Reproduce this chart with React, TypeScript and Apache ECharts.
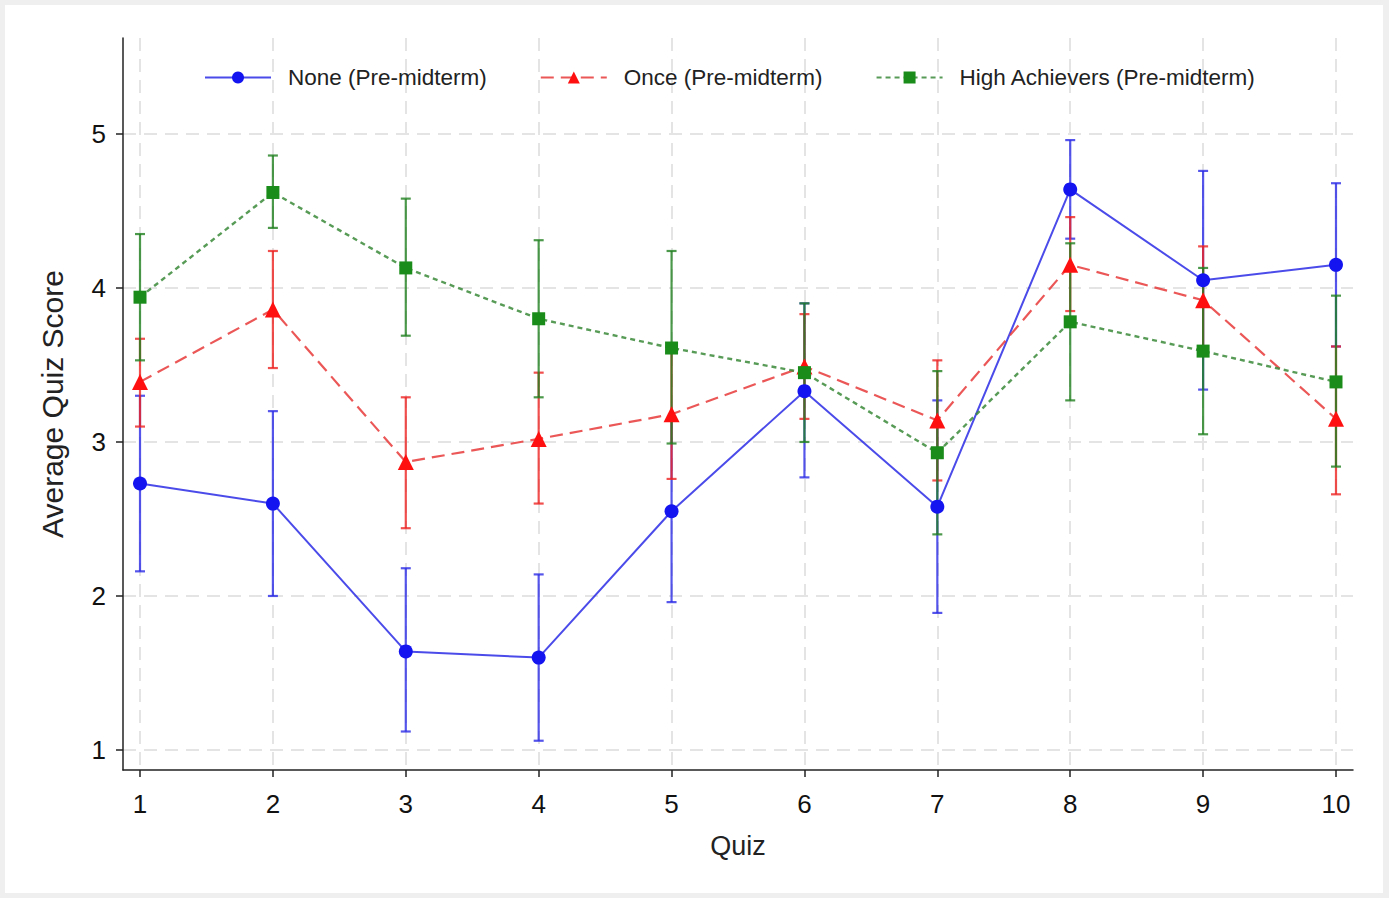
import React, { useEffect, useRef } from "react";
import * as echarts from "echarts";

const quizzes = [1, 2, 3, 4, 5, 6, 7, 8, 9, 10];
const yTicks = [1, 2, 3, 4, 5];

const noneMean = [2.73, 2.6, 1.64, 1.6, 2.55, 3.33, 2.58, 4.64, 4.05, 4.15];
const noneLow = [2.16, 2.0, 1.12, 1.06, 1.96, 2.77, 1.89, 4.32, 3.34, 3.62];
const noneHigh = [3.3, 3.2, 2.18, 2.14, 3.14, 3.9, 3.27, 4.96, 4.76, 4.68];

const onceMean = [3.39, 3.86, 2.87, 3.02, 3.18, 3.49, 3.14, 4.15, 3.92, 3.15];
const onceLow = [3.1, 3.48, 2.44, 2.6, 2.76, 3.15, 2.75, 3.85, 3.57, 2.66];
const onceHigh = [3.67, 4.24, 3.29, 3.45, 3.6, 3.83, 3.53, 4.46, 4.27, 3.62];

const highMean = [3.94, 4.62, 4.13, 3.8, 3.61, 3.45, 2.93, 3.78, 3.59, 3.39];
const highLow = [3.53, 4.39, 3.69, 3.29, 2.99, 3.0, 2.4, 3.27, 3.05, 2.84];
const highHigh = [4.35, 4.86, 4.58, 4.31, 4.24, 3.9, 3.46, 4.29, 4.13, 3.95];

const seriesNames = ["None (Pre-midterm)", "Once (Pre-midterm)", "High Achievers (Pre-midterm)"];

const FONT = '"Liberation Sans", Arial, Helvetica, sans-serif';

function errorSeries(name: string, low: number[], high: number[], color: string) {
  return {
    type: "custom",
    name,
    z: 1,
    silent: true,
    encode: { x: 0, y: [1, 2] },
    data: quizzes.map((q, i) => [q, low[i], high[i]]),
    renderItem: (params: any, api: any) => {
      const x = api.value(0);
      const p1 = api.coord([x, api.value(1)]);
      const p2 = api.coord([x, api.value(2)]);
      const hw = 5;
      const style = { stroke: color, lineWidth: 2.2, opacity: 0.8 };
      return {
        type: "group",
        children: [
          { type: "line", shape: { x1: p1[0], y1: p1[1], x2: p2[0], y2: p2[1] }, style },
          { type: "line", shape: { x1: p1[0] - hw, y1: p1[1], x2: p1[0] + hw, y2: p1[1] }, style },
          { type: "line", shape: { x1: p2[0] - hw, y1: p2[1], x2: p2[0] + hw, y2: p2[1] }, style },
        ],
      };
    },
  };
}

function lineSeries(name: string, mean: number[], color: string, lineColor: string, symbol: string, size: number, dash: any, width: number) {
  return {
    type: "line",
    name,
    z: 3,
    data: quizzes.map((q, i) => [q, mean[i]]),
    symbol,
    symbolSize: size,
    showSymbol: true,
    itemStyle: { color, borderColor: color, borderWidth: 0, opacity: 1 },
    lineStyle: { color: lineColor, width, type: dash, opacity: 0.85 },
  };
}

export default function App() {
  const ref = useRef<HTMLDivElement>(null);
  useEffect(() => {
    if (!ref.current) return;
    const chart = echarts.init(ref.current, undefined, { renderer: "svg" });
    const option: any = {
      animation: false,
      backgroundColor: "#efefef",
      graphic: [
        {
          type: "rect",
          z: -10,
          silent: true,
          shape: { x: 5, y: 5, width: 1378, height: 888 },
          style: { fill: "#ffffff" },
        },
      ],
      grid: { left: 123, right: 36, top: 38, bottom: 128, containLabel: false },
      legend: {
        left: 199,
        top: 61,
        width: 1150,
        itemWidth: 66,
        itemHeight: 15,
        itemGap: 53,
        textStyle: { fontFamily: FONT, fontSize: 22.5, color: "#222", padding: [0, 0, 0, 12] },
        data: seriesNames,
      },
      xAxis: {
        type: "value",
        min: 0.872,
        max: 10.128,
        name: "Quiz",
        nameLocation: "middle",
        nameGap: 62,
        nameTextStyle: { fontFamily: FONT, fontSize: 27, color: "#222" },
        axisLine: { show: true, onZero: false, lineStyle: { color: "#222", width: 1.5 } },
        axisTick: { show: true, length: 7, customValues: quizzes, lineStyle: { color: "#222", width: 1.5 } },
        axisLabel: { customValues: quizzes, margin: 21, fontSize: 26, color: "#111", fontFamily: FONT },
        splitLine: { show: true, lineStyle: { color: "#e4e4e4", width: 2, type: [13, 8] } },
      },
      yAxis: {
        type: "value",
        min: 0.87,
        max: 5.623,
        name: "Average Quiz Score",
        nameLocation: "middle",
        nameGap: 56,
        nameTextStyle: { fontFamily: FONT, fontSize: 30, color: "#222" },
        axisLine: { show: true, onZero: false, lineStyle: { color: "#222", width: 1.5 } },
        axisTick: { show: true, length: 7, customValues: yTicks, lineStyle: { color: "#222", width: 1.5 } },
        axisLabel: { customValues: yTicks, margin: 17, fontSize: 26, color: "#111", fontFamily: FONT },
        splitLine: { show: true, lineStyle: { color: "#e4e4e4", width: 2, type: [13, 8] } },
      },
      series: [
        errorSeries("None CI", noneLow, noneHigh, "#2a2ae6"),
        errorSeries("Once CI", onceLow, onceHigh, "#ee2222"),
        errorSeries("High CI", highLow, highHigh, "#1f7f1f"),
        lineSeries(seriesNames[0], noneMean, "#1414f0", "#2c2ce6", "circle", 14, "solid", 2),
        lineSeries(seriesNames[1], onceMean, "#ff1010", "#e83a3a", "triangle", 16, [13, 7], 2.2),
        lineSeries(seriesNames[2], highMean, "#1a8c1a", "#3a8a3a", "rect", 13, [5, 4], 2.4),
      ],
    };
    chart.setOption(option);
    return () => chart.dispose();
  }, []);
  return (
    <div
      ref={ref}
      style={{ position: "fixed", left: 0, top: 0, width: 1389, height: 898 }}
    />
  );
}
